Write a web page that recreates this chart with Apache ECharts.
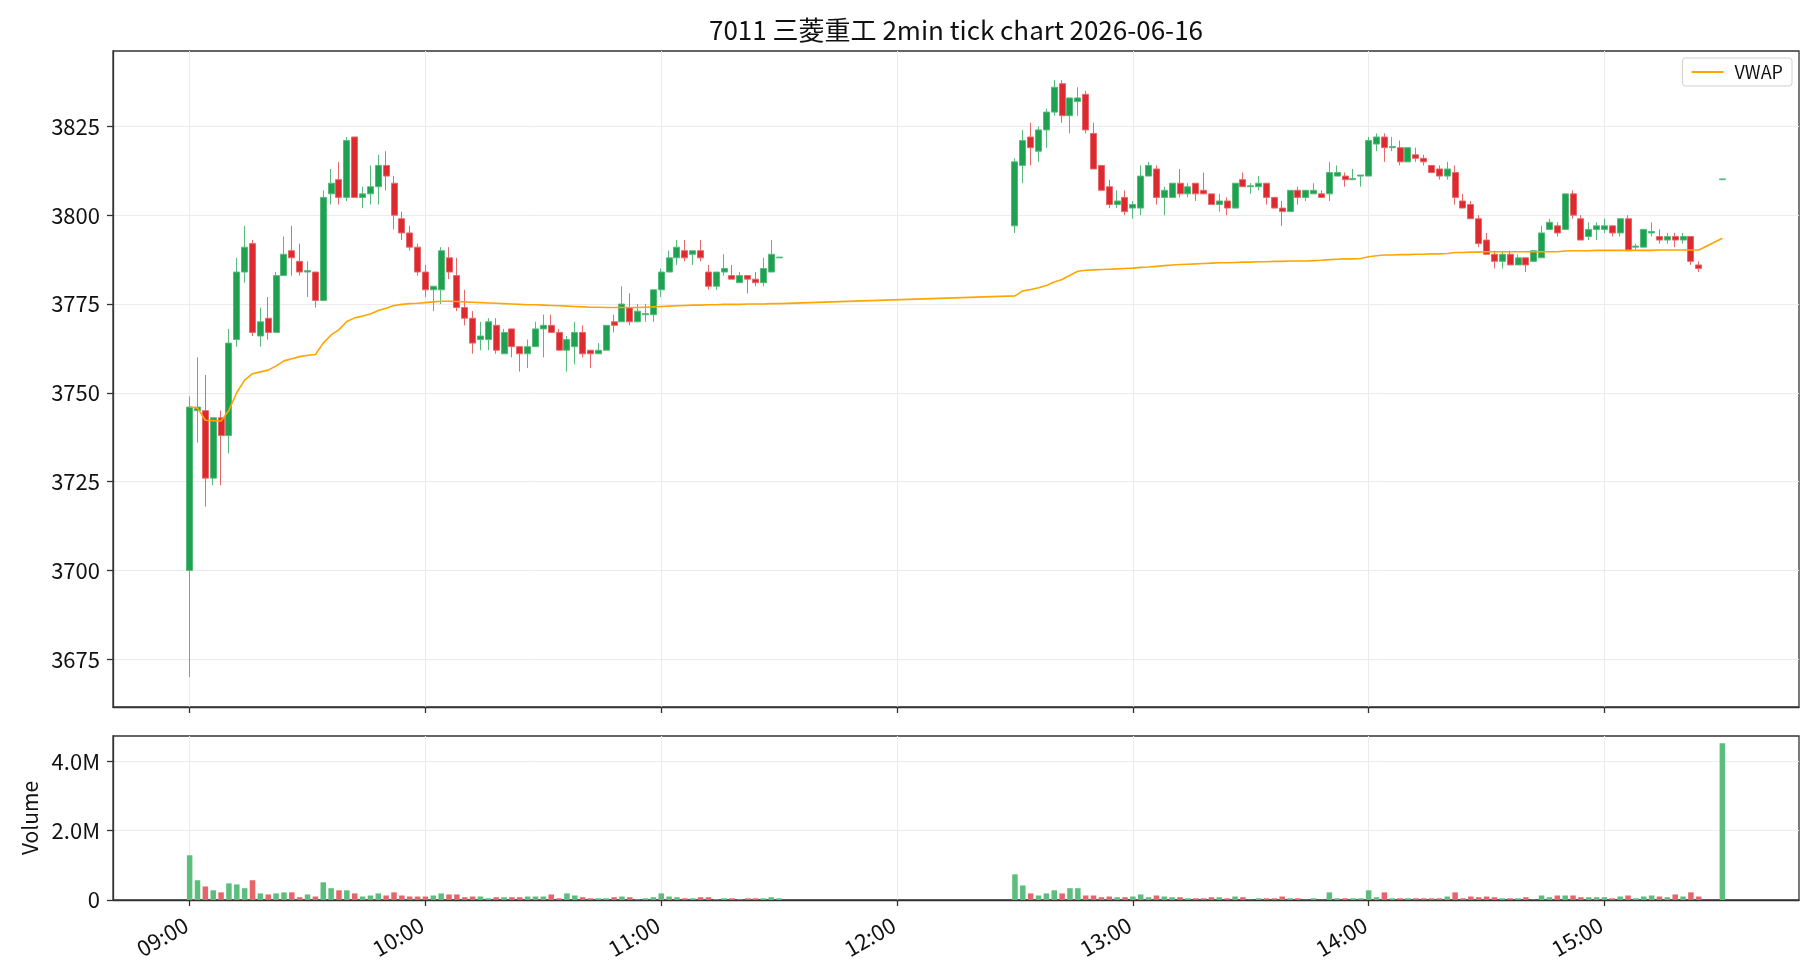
<!DOCTYPE html>
<html>
<head>
<meta charset="utf-8">
<script src="https://cdn.jsdelivr.net/npm/echarts@6/dist/echarts.min.js"></script>
<style>
  html, body { margin: 0; padding: 0; background: #fff; }
  #chart { width: 1820px; height: 980px; }
</style>
</head>
<body>
<div id="chart"></div>
<script>
const FONT = '"Noto Sans CJK JP", "Noto Sans", sans-serif';
const UP = '#1fa24f';
const DOWN = '#dd2a2e';

const times = [
  '09:00','09:02','09:04','09:06','09:08','09:10','09:12','09:14','09:16','09:18',
  '09:20','09:22','09:24','09:26','09:28','09:30','09:32','09:34','09:36','09:38',
  '09:40','09:42','09:44','09:46','09:48','09:50','09:52','09:54','09:56','09:58',
  '10:00','10:02','10:04','10:06','10:08','10:10','10:12','10:14','10:16','10:18',
  '10:20','10:22','10:24','10:26','10:28','10:30','10:32','10:34','10:36','10:38',
  '10:40','10:42','10:44','10:46','10:48','10:50','10:52','10:54','10:56','10:58',
  '11:00','11:02','11:04','11:06','11:08','11:10','11:12','11:14','11:16','11:18',
  '11:20','11:22','11:24','11:26','11:28','11:30',
  '12:30','12:32','12:34','12:36','12:38','12:40','12:42','12:44','12:46','12:48',
  '12:50','12:52','12:54','12:56','12:58',
  '13:00','13:02','13:04','13:06','13:08','13:10','13:12','13:14','13:16','13:18',
  '13:20','13:22','13:24','13:26','13:28','13:30','13:32','13:34','13:36','13:38',
  '13:40','13:42','13:44','13:46','13:48','13:50','13:52','13:54','13:56','13:58',
  '14:00','14:02','14:04','14:06','14:08','14:10','14:12','14:14','14:16','14:18',
  '14:20','14:22','14:24','14:26','14:28','14:30','14:32','14:34','14:36','14:38',
  '14:40','14:42','14:44','14:46','14:48','14:50','14:52','14:54','14:56','14:58',
  '15:00','15:02','15:04','15:06','15:08','15:10','15:12','15:14','15:16','15:18',
  '15:20','15:22','15:24','15:30'
];

// [open, close, low, high]
const ohlc = [
  [3700,3746,3670,3749],[3745,3746,3736,3760],[3745,3726,3718,3755],[3726,3743,3724,3743],
  [3743,3738,3724,3745],[3738,3764,3733,3768],[3765,3784,3763,3788],[3784,3791,3781,3797],
  [3792,3767,3766,3793],[3766,3770,3763,3774],[3771,3767,3765,3777],[3767,3783,3767,3784],
  [3783,3789,3783,3794],[3790,3788,3783,3797],[3787,3784,3783,3792],[3784,3784.4,3777,3787],
  [3784,3776,3774,3784],[3776,3805,3776,3807],[3806,3809,3803,3813],[3810,3805,3803,3815],
  [3805,3821,3804,3822],[3822,3805,3805,3822],[3805,3806,3802,3808],[3806,3808,3803,3814],
  [3808,3814,3803,3817],[3814,3811,3807,3818],[3809,3800,3796,3811],[3799,3795,3793,3801],
  [3795,3791,3790,3797],[3791,3784,3783,3792],
  [3784,3779,3777,3786],[3779,3780,3773,3780],[3779,3790,3775,3791],[3788,3784,3782,3791],
  [3783,3774,3773,3788],[3774,3771,3769,3779],[3771,3764,3761,3773],[3765,3766,3762,3770],
  [3765,3770,3762,3771],[3769,3762,3761,3771],[3761,3767,3761,3768],[3768,3763,3760,3768],
  [3763,3761,3756,3763],[3761,3763,3757,3765],[3763,3768,3763,3770],[3768,3769,3760,3772],
  [3769,3767,3767,3772],[3767,3762,3762,3768],[3762,3765,3756,3766],[3763,3767,3758,3770],
  [3767,3761,3760,3769],[3762,3761,3757,3762],[3761,3762,3761,3764],[3762,3769,3762,3769],
  [3770,3769,3767,3772],[3770,3775,3770,3780],[3774,3770,3769,3778],[3770,3773,3770,3775],
  [3772,3772.3,3770,3775],[3772,3779,3770,3779],
  [3779,3784,3777,3785],[3784,3788,3784,3790],[3788,3791,3786,3793],[3790,3788,3787,3793],
  [3789,3790,3786,3790],[3790,3788,3787,3793],[3784,3780,3779,3786],[3780,3784,3779,3784],
  [3784,3785,3783,3789],[3783,3782,3782,3786],[3781,3783,3781,3784],[3783,3782,3778,3783],
  [3782,3781,3780,3784],[3781,3785,3780,3788],[3784,3789,3784,3793],[3788,3788.2,3788,3788.2],
  [3797,3815,3795,3816],[3814,3821,3809,3824],[3822,3819,3814,3826],[3818,3824,3815,3825],
  [3824,3829,3819,3830],[3829,3836,3828,3838],[3837,3828,3826,3838],[3828,3833,3823,3833],
  [3832,3833,3828,3836],[3834,3824,3823,3835],[3823,3813,3813,3826],[3814,3807,3807,3814],
  [3808,3803,3802,3810],[3803,3804,3802,3807],[3805,3801,3800,3807],
  [3802,3803,3799,3804],[3802,3811,3800,3814],[3811,3814,3811,3815],[3813,3805,3803,3814],
  [3805,3807,3800,3808],[3805,3809,3805,3809],[3809,3806,3805,3813],[3806,3808,3805,3809],
  [3809,3806,3804,3809],[3807,3806,3806,3812],[3806,3803,3803,3806],[3803,3804,3801,3806],
  [3804,3802,3800,3805],[3802,3809,3802,3809],[3810,3808,3808,3812],[3808,3808.3,3806,3809],
  [3808,3809,3807,3811],[3809,3805,3803,3809],[3805,3802,3802,3805],[3802,3801,3797,3804],
  [3801,3807,3801,3807],[3807,3805,3803,3808],[3805,3807,3804,3807],[3806,3807,3806,3809],
  [3806,3805,3805,3807],[3806,3812,3804,3815],[3811,3812,3811,3814],[3811,3810,3808,3812],
  [3810,3810.3,3810,3813],[3811,3811.3,3808,3811.3],
  [3811,3821,3811,3822],[3820,3822,3818,3823],[3822,3819,3815,3823],[3819,3819.3,3818,3822],
  [3819,3815,3814,3821],[3815,3819,3815,3819],[3817,3816,3815,3819],[3816,3815,3814,3817],
  [3814,3812,3812,3814],[3813,3811,3810,3814],[3811,3813,3810,3815],[3812,3805,3803,3814],
  [3804,3802,3802,3806],[3803,3799,3799,3804],[3799,3792,3791,3800],[3793,3789,3789,3795],
  [3789,3787,3785,3790],[3787,3789,3785,3790],[3789,3786,3786,3790],[3786,3788,3786,3789],
  [3788,3786,3784,3788],[3787,3790,3787,3790],[3788,3795,3788,3797],[3796,3798,3796,3799],
  [3797,3795,3794,3798],[3796,3806,3796,3806],[3806,3800,3799,3807],[3799,3793,3793,3800],
  [3794,3796,3793,3798],[3796,3797,3793,3798],
  [3796,3797,3795,3799],[3797,3795,3794,3797],[3795,3799,3794,3799],[3799,3790,3790,3800],
  [3791,3791.3,3790,3792],[3791,3796,3791,3796],[3795,3795.4,3794,3798],[3794,3793,3792,3796],
  [3793,3794,3792,3795],[3794,3793,3791,3795],[3793,3794,3792,3795],[3794,3787,3786,3794],
  [3786,3785,3784,3787],[3810,3810.2,3810,3810.2]
];

// volume in millions of shares
const volumeM = [
  1.29,0.57,0.39,0.28,0.22,0.48,0.45,0.34,0.57,0.19,0.16,0.19,0.22,0.22,0.08,0.16,0.10,0.51,0.34,0.28,
  0.28,0.19,0.10,0.13,0.19,0.13,0.22,0.13,0.10,0.10,0.10,0.13,0.19,0.16,0.16,0.08,0.10,0.10,0.05,0.08,
  0.08,0.08,0.08,0.10,0.10,0.10,0.16,0.05,0.19,0.13,0.08,0.05,0.05,0.05,0.08,0.10,0.08,0.02,0.05,0.08,
  0.19,0.10,0.08,0.05,0.05,0.08,0.08,0.02,0.05,0.05,0.02,0.05,0.05,0.05,0.08,0.05,
  0.74,0.42,0.19,0.13,0.19,0.28,0.19,0.34,0.34,0.13,0.13,0.08,0.10,0.08,0.08,0.10,0.16,0.08,0.13,0.10,
  0.08,0.08,0.05,0.05,0.05,0.08,0.08,0.05,0.10,0.08,0.01,0.05,0.05,0.05,0.10,0.05,0.05,0.01,0.05,0.01,
  0.22,0.05,0.05,0.05,0.05,0.28,0.08,0.22,0.05,0.05,0.05,0.05,0.05,0.05,0.05,0.10,0.22,0.05,0.10,0.08,
  0.10,0.08,0.05,0.05,0.05,0.08,0.01,0.13,0.08,0.13,0.13,0.13,0.08,0.08,0.08,0.08,0.05,0.10,0.13,0.05,
  0.10,0.13,0.10,0.08,0.16,0.10,0.22,0.10,4.52
];

const vwap = [
  3746.1,3745.7,3742.3,3742.2,3742.1,3745.1,3750.1,3753.6,3755.4,3755.9,
  3756.4,3757.6,3759.0,3759.6,3760.2,3760.6,3760.8,3764.0,3766.3,3767.8,
  3770.1,3771.1,3771.6,3772.2,3773.2,3773.8,3774.6,3774.9,3775.1,3775.2,
  3775.4,3775.6,3775.8,3775.8,3775.7,3775.6,3775.5,3775.4,3775.3,3775.2,
  3775.1,3775.0,3774.9,3774.8,3774.8,3774.7,3774.6,3774.5,3774.4,3774.3,
  3774.2,3774.1,3774.1,3774.0,3774.0,3774.0,3774.0,3774.0,3774.1,3774.2,
  3774.3,3774.4,3774.5,3774.6,3774.7,3774.7,3774.8,3774.8,3774.9,3774.9,
  3774.9,3775.0,3775.0,3775.0,3775.1,3775.1,
  3777.3,3778.7,3779.1,3779.6,3780.2,3781.2,3781.9,3783.1,3784.2,3784.5,
  3784.6,3784.7,3784.8,3784.9,3785.0,3785.1,3785.3,3785.4,3785.6,3785.8,
  3786.0,3786.1,3786.2,3786.3,3786.4,3786.5,3786.6,3786.6,3786.7,3786.8,
  3786.8,3786.9,3786.9,3787.0,3787.0,3787.1,3787.1,
  3787.1,3787.2,3787.3,3787.5,3787.6,3787.7,3787.7,3787.8,3788.3,3788.6,
  3788.8,3788.8,3788.9,3788.9,3789.0,3789.0,3789.1,3789.1,3789.2,3789.5,
  3789.5,3789.6,3789.6,3789.7,3789.7,3789.7,3789.7,3789.7,3789.7,3789.7,
  3789.7,3789.7,3789.7,
  3789.9,3790.0,3790.0,3790.0,3790.1,3790.1,3790.1,3790.1,3790.1,3790.1,
  3790.1,3790.1,3790.2,3790.2,3790.2,3790.2,3790.2,3790.2,3793.5
];

const hourTicks = ['09:00','10:00','11:00','12:00','13:00','14:00','15:00'];
const priceTicks = [3675, 3700, 3725, 3750, 3775, 3800, 3825];
const volumeTicks = [0, 2, 4];

// minutes since 09:00
const toMin = (t) => {
  const [h, m] = t.split(':').map(Number);
  return h * 60 + m - 540;
};
const fmtMin = (v) => {
  const h = 9 + Math.floor(v / 60);
  const m = Math.round(v - (h - 9) * 60);
  return String(h).padStart(2, '0') + ':' + String(m).padStart(2, '0');
};
const hourValues = hourTicks.map(toMin);

const candleData = times.map((t, i) => [toMin(t), ...ohlc[i]]);
const volData = times.map((t, i) => ({
  value: [toMin(t), volumeM[i]],
  itemStyle: { color: ohlc[i][1] >= ohlc[i][0] ? '#5bbe7d' : '#e6656a' },
}));
const vwapData = times.map((t, i) => [toMin(t), vwap[i]]);

const X_MIN = -19.5;
const X_MAX = 409.5;
const GRID_LINE = { show: true, lineStyle: { color: '#ebebeb', width: 1 } };
const AXIS_LINE = { show: true, onZero: false, lineStyle: { color: '#333', width: 1.3 } };
const tick = (values) => ({ show: true, length: 6, customValues: values, lineStyle: { color: '#333', width: 1.3 } });

const chart = echarts.init(document.getElementById('chart'), null, { renderer: 'canvas' });

const option = {
  animation: false,
  backgroundColor: '#fff',
  textStyle: { fontFamily: FONT },
  graphic: [{
    type: 'text',
    x: 956,
    y: 30,
    style: {
      text: '7011 三菱重工 2min tick chart 2026-06-16',
      font: '26px ' + FONT,
      fill: '#111',
      textAlign: 'center',
      textVerticalAlign: 'middle',
    },
  }],
  legend: {
    data: [{ name: 'VWAP', icon: 'rect' }],
    right: 28,
    top: 58,
    padding: [5, 9, 5, 9],
    itemWidth: 32,
    itemHeight: 2,
    itemGap: 6,
    borderColor: '#d0d0d0',
    borderWidth: 1,
    borderRadius: 3,
    backgroundColor: '#fff',
    textStyle: { fontSize: 18, color: '#111', fontFamily: FONT, padding: [0, 0, 0, 6] },
  },
  grid: [
    { left: 113, right: 21, top: 51, height: 656, show: true, borderColor: '#333', borderWidth: 1.3 },
    { left: 113, right: 21, top: 736, height: 164, show: true, borderColor: '#333', borderWidth: 1.3 },
  ],
  xAxis: [
    {
      type: 'value', gridIndex: 0, min: X_MIN, max: X_MAX,
      minInterval: 60, maxInterval: 60,
      axisLine: AXIS_LINE, axisTick: tick(hourValues), splitLine: GRID_LINE,
      axisLabel: { show: false },
    },
    {
      type: 'value', gridIndex: 1, min: X_MIN, max: X_MAX,
      minInterval: 60, maxInterval: 60,
      axisLine: AXIS_LINE, axisTick: tick(hourValues), splitLine: GRID_LINE,
      axisLabel: {
        customValues: hourValues,
        rotate: 30, margin: 21, padding: [0, 4, 0, 0],
        fontSize: 22, color: '#111', fontFamily: FONT,
        formatter: (v) => fmtMin(v),
      },
    },
  ],
  yAxis: [
    {
      type: 'value', gridIndex: 0, min: 3661.6, max: 3846.2,
      minInterval: 25, maxInterval: 25,
      axisLine: AXIS_LINE, axisTick: tick(priceTicks), splitLine: GRID_LINE,
      axisLabel: {
        customValues: priceTicks,
        margin: 13, fontSize: 22, color: '#111', fontFamily: FONT,
        formatter: (v) => String(v),
      },
    },
    {
      type: 'value', gridIndex: 1, min: 0, max: 4.73,
      minInterval: 2, maxInterval: 2,
      name: 'Volume', nameLocation: 'middle', nameGap: 72, nameRotate: 90,
      nameTextStyle: { fontSize: 21, color: '#111', fontFamily: FONT },
      axisLine: AXIS_LINE, axisTick: tick(volumeTicks), splitLine: GRID_LINE,
      axisLabel: {
        customValues: volumeTicks,
        margin: 13, fontSize: 22, color: '#111', fontFamily: FONT,
        formatter: (v) => (v === 0 ? '0' : v.toFixed(1) + 'M'),
      },
    },
  ],
  series: [
    {
      type: 'candlestick',
      name: 'price',
      xAxisIndex: 0,
      yAxisIndex: 0,
      barWidth: 6.5,
      data: candleData,
      itemStyle: {
        color: UP,
        color0: DOWN,
        borderColor: '#55bb7c',
        borderColor0: '#e8676b',
        borderWidth: 1,
      },
    },
    {
      type: 'line',
      name: 'VWAP',
      xAxisIndex: 0,
      yAxisIndex: 0,
      data: vwapData,
      symbol: 'none',
      lineStyle: { color: '#ffa500', width: 1.6 },
      itemStyle: { color: '#ffa500' },
      z: 5,
    },
    {
      type: 'bar',
      name: 'volume',
      xAxisIndex: 1,
      yAxisIndex: 1,
      barWidth: 5.5,
      data: volData,
    },
  ],
};

chart.setOption(option);
</script>
</body>
</html>
